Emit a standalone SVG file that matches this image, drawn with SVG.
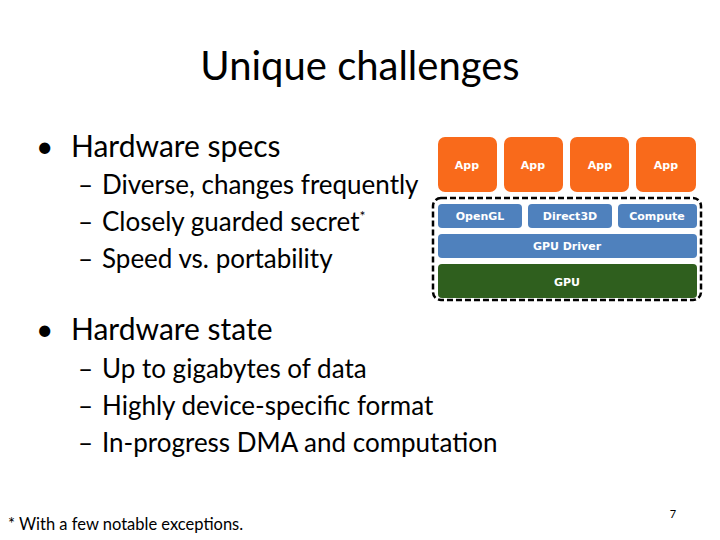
<svg xmlns="http://www.w3.org/2000/svg" width="720" height="540" viewBox="0 0 720 540">
<style>
text{font-family:Lato,"Open Sans",sans-serif;fill:#000}
.app{fill:#f96a1b}
.blue{fill:#4f81bd}
.lbl{font-family:"DejaVu Sans",sans-serif;font-size:11px;fill:#fff;font-weight:bold;text-anchor:middle}
.b{font-size:30px}
.s{font-size:26px}
</style>
<rect width="720" height="540" fill="#fff"/>
<text x="360" y="80" font-size="40" text-anchor="middle">Unique challenges</text>
<text x="36" y="157" class="b">•<tspan x="71">Hardware specs</tspan></text>
<text x="78" y="194" class="s">–<tspan x="102">Diverse, changes frequently</tspan></text>
<text x="78" y="231" class="s">–<tspan x="102">Closely guarded secret</tspan><tspan font-size="14" dy="-10">*</tspan></text>
<text x="78" y="268" class="s">–<tspan x="102">Speed vs. portability</tspan></text>
<text x="36" y="340" class="b">•<tspan x="71">Hardware state</tspan></text>
<text x="78" y="378" class="s">–<tspan x="102">Up to gigabytes of data</tspan></text>
<text x="78" y="415" class="s">–<tspan x="102">Highly device-specific format</tspan></text>
<text x="78" y="452" class="s">–<tspan x="102">In-progress DMA and computation</tspan></text>
<text x="8" y="530" font-size="16.5">* With a few notable exceptions.</text>
<text x="673" y="518" font-size="11" fill="#888" text-anchor="middle">7</text>
<g id="apps">
<g id="app1"><rect class="app" x="438" y="137" width="59" height="55" rx="7"/><text class="lbl" x="467" y="169">App</text></g>
<g id="app2"><rect class="app" x="504" y="137" width="59" height="55" rx="7"/><text class="lbl" x="533" y="169">App</text></g>
<g id="app3"><rect class="app" x="570" y="137" width="59" height="55" rx="7"/><text class="lbl" x="600" y="169">App</text></g>
<g id="app4"><rect class="app" x="636" y="137" width="60" height="55" rx="7"/><text class="lbl" x="666" y="169">App</text></g>
</g>
<g id="stack">
<rect x="433" y="198" width="268" height="102" rx="8" fill="none" stroke="#000" stroke-width="2.5" stroke-dasharray="6,3"/>
<g id="opengl"><rect class="blue" x="438" y="204" width="84" height="24" rx="4"/><text class="lbl" x="480" y="220">OpenGL</text></g>
<g id="direct3d"><rect class="blue" x="528" y="204" width="84" height="24" rx="4"/><text class="lbl" x="570" y="220">Direct3D</text></g>
<g id="compute"><rect class="blue" x="618" y="204" width="79" height="24" rx="4"/><text class="lbl" x="657" y="220">Compute</text></g>
<g id="driver"><rect class="blue" x="438" y="234" width="259" height="24" rx="4"/><text class="lbl" x="567" y="250">GPU Driver</text></g>
<g id="gpu"><rect fill="#2f5f1e" x="438" y="264" width="259" height="34" rx="4"/><text class="lbl" x="567" y="286">GPU</text></g>
</g>
<g id="connectors"/>
</svg>
